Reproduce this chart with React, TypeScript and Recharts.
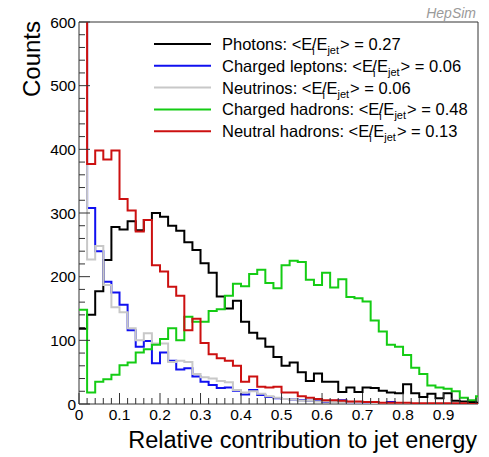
import { LineChart, Line, XAxis, YAxis, ReferenceArea } from "recharts";

// bin width of the histograms
const BIN = 0.02;

// counts per bin (bin i covers [i*BIN, (i+1)*BIN)); first-bin spikes run off the top
const photons = [
  118, 140, 177, 226, 278, 274, 287, 273, 289, 300,
  294, 280, 272, 254, 242, 221, 206, 169, 150, 162,
  129, 112, 103, 90, 74, 60, 65, 50, 36, 48,
  35, 35, 19, 26, 19, 26, 25, 21, 18, 17,
  31, 17, 11, 16, 9, 17, 5, 4, 3, 2,
];
const chargedLeptons = [
  900, 308, 240, 192, 175, 156, 116, 90, 99, 64,
  81, 68, 54, 56, 43, 35, 30, 25, 26, 21,
  15, 22, 14, 11, 9, 8, 7, 6, 5, 5,
  3, 5, 6, 2, 2, 1, 1, 1, 3, 1,
  0, 0, 0, 0, 0, 0, 0, 0, 0, 0,
];
const neutrinos = [
  900, 227, 248, 187, 152, 144, 119, 100, 111, 95,
  95, 66, 68, 66, 47, 42, 40, 36, 34, 22,
  18, 20, 16, 12, 10, 8, 7, 5, 5, 4,
  4, 3, 3, 2, 2, 2, 1, 1, 1, 1,
  0, 0, 0, 0, 0, 0, 0, 0, 0, 0,
];
const chargedHadrons = [
  148, 18, 35, 39, 46, 61, 65, 81, 86, 93,
  102, 119, 100, 137, 129, 129, 146, 149, 170, 189,
  185, 204, 211, 190, 182, 218, 225, 223, 195, 187,
  206, 183, 196, 168, 166, 161, 131, 114, 93, 90,
  77, 57, 47, 29, 26, 24, 20, 10, 6, 12,
];
const neutralHadrons = [
  900, 377, 398, 384, 398, 322, 304, 271, 289, 218,
  208, 184, 170, 116, 134, 96, 78, 72, 68, 60,
  35, 43, 27, 26, 27, 18, 18, 12, 10, 8,
  6, 6, 5, 4, 4, 3, 3, 2, 2, 2,
  2, 1, 1, 1, 1, 1, 1, 1, 0, 0,
];

const seriesKeys = ["photons", "chargedLeptons", "neutrinos", "chargedHadrons", "neutralHadrons"];
const seriesNames = ["Photons", "Charged leptons", "Neutrinos", "Charged hadrons", "Neutral hadrons"];
const seriesMeans = ["0.27", "0.06", "0.06", "0.48", "0.13"];
const seriesValues = [photons, chargedLeptons, neutrinos, chargedHadrons, neutralHadrons];
const colors = ["#000000", "#1010f0", "#c8c8c8", "#14cc14", "#cc1010"];

const xTickLabels = ["0", "0.1", "0.2", "0.3", "0.4", "0.5", "0.6", "0.7", "0.8", "0.9"];
const yTickLabels = ["0", "100", "200", "300", "400", "500", "600"];

const X_MAX = 0.985;
const Y_MAX = 600;

// one row per bin edge, plus a closing edge so the last step is drawn
const rows = Array.from({ length: photons.length + 1 }, (_, i) => {
  const j = Math.min(i, photons.length - 1);
  const row: Record<string, number> = { x: +(i * BIN).toFixed(2) };
  seriesKeys.forEach((k, s) => {
    row[k] = seriesValues[s][j];
  });
  return row;
});

const xTicks = Array.from({ length: 50 }, (_, i) => +(i * BIN).toFixed(2));
const yTicks = Array.from({ length: 31 }, (_, i) => i * 20);

const FONT = "'Liberation Sans', Arial, Helvetica, sans-serif";
const axisColor = "#333";

function XTick({ x, y, payload }: any) {
  const i = Math.round(payload.value / BIN);
  const major = i % 5 === 0;
  return (
    <g>
      <line x1={x} x2={x} y1={y} y2={y - (major ? 11 : 6)} stroke={axisColor} strokeWidth={1} />
      {major && (
        <text x={x} y={y + 16} textAnchor="middle" fontSize={15.5} fontFamily={FONT} fill="#000">
          {xTickLabels[i / 5]}
        </text>
      )}
    </g>
  );
}

function YTick({ x, y, payload }: any) {
  const major = payload.value % 100 === 0;
  return (
    <g>
      <line x1={x} x2={x + (major ? 11 : 6)} y1={y} y2={y} stroke={axisColor} strokeWidth={1} />
      {major && (
        <text x={x - 3} y={y + 5.5} textAnchor="end" fontSize={15.5} fontFamily={FONT} fill="#000">
          {yTickLabels[payload.value / 100]}
        </text>
      )}
    </g>
  );
}

function LegendLabel({ name, mean, y }: { name: string; mean: string; y: number }) {
  return (
    <text x={222} y={y + 6} fontSize={16.5} fontFamily={FONT} fill="#000">
      <tspan>{name}: &lt;E</tspan>
      <tspan dy={5} fontSize={11}>i</tspan>
      <tspan dy={-5} dx={-3}>/E</tspan>
      <tspan dy={4} fontSize={11}>jet</tspan>
      <tspan dy={-4} dx={1}>&gt; = {mean}</tspan>
    </text>
  );
}

export default function App() {
  return (
    <div
      style={{
        position: "absolute",
        left: 0,
        top: 0,
        width: 489,
        height: 457,
        background: "#fff",
        fontFamily: FONT,
      }}
    >
      <LineChart width={489} height={457} data={rows} margin={{ top: 22, right: 11, bottom: 52, left: 78 }}>
        <XAxis
          dataKey="x"
          type="number"
          domain={[0, X_MAX]}
          allowDataOverflow
          ticks={xTicks}
          interval={0}
          height={1}
          tickSize={0}
          tickMargin={0}
          axisLine={false}
          tickLine={false}
          tick={<XTick />}
        />
        <YAxis
          type="number"
          domain={[0, Y_MAX]}
          allowDataOverflow
          ticks={yTicks}
          interval={0}
          width={1}
          tickSize={0}
          tickMargin={0}
          axisLine={false}
          tickLine={false}
          tick={<YTick />}
        />
        {seriesKeys.map((k, s) => (
          <Line
            key={k}
            dataKey={k}
            type="stepAfter"
            stroke={colors[s]}
            strokeWidth={2}
            dot={false}
            activeDot={false}
            isAnimationActive={false}
          />
        ))}
        <ReferenceArea x1={0} x2={X_MAX} y1={0} y2={Y_MAX} fill="none" stroke={axisColor} strokeWidth={1} />
      </LineChart>
      <svg width={489} height={457} style={{ position: "absolute", left: 0, top: 0, pointerEvents: "none" }}>
        <text x={476} y={18} textAnchor="end" fontSize={14} fontStyle="italic" fontFamily={FONT} fill="#9a9a9a">
          HepSim
        </text>
        <text
          transform="translate(40,21) rotate(-90)"
          textAnchor="end"
          fontSize={24}
          fontFamily={FONT}
          fill="#000"
        >
          Counts
        </text>
        <text x={477} y={448} textAnchor="end" fontSize={23.5} fontFamily={FONT} fill="#000">
          Relative contribution to jet energy
        </text>
        {seriesNames.map((name, s) => {
          const y = 44 + s * 21.8;
          return (
            <g key={name}>
              <line x1={154} x2={211} y1={y} y2={y} stroke={colors[s]} strokeWidth={2} />
              <LegendLabel name={name} mean={seriesMeans[s]} y={y} />
            </g>
          );
        })}
      </svg>
    </div>
  );
}
